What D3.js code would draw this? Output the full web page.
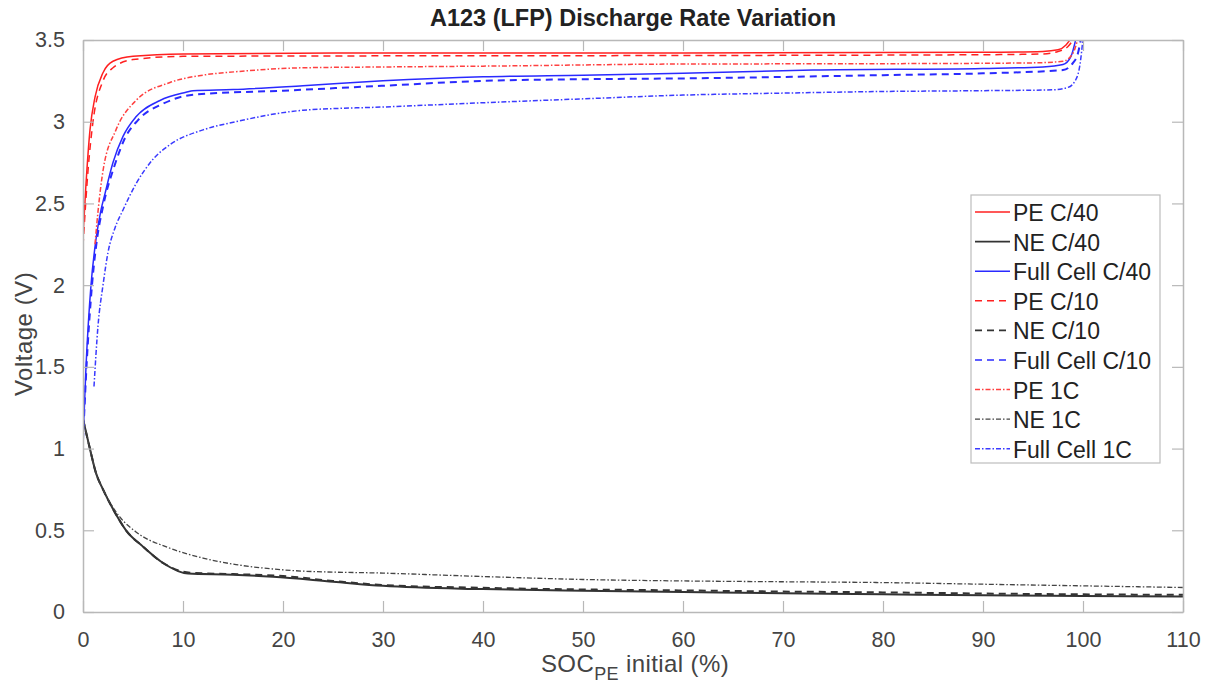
<!DOCTYPE html>
<html>
<head>
<meta charset="utf-8">
<script src="https://cdn.jsdelivr.net/npm/d3@7"></script>
<style>
  body { margin: 0; background: #fff; }
  text { font-family: "Liberation Sans", Arial, sans-serif; }
</style>
</head>
<body>
<div id="chart"></div>
<script>
// series: [SOC %, voltage V]
const peC40 = [[0,2.3],[0.3,2.62],[0.7,2.95],[1.2,3.15],[2,3.3],[3,3.37],[5,3.4],[10,3.415],[30,3.42],[60,3.42],[90,3.425],[96,3.43],[97.5,3.44],[98.3,3.47],[98.8,3.51]];
const neC40 = [[0,1.18],[0.65,1.01],[1.3,0.85],[2,0.75],[3,0.63],[4.3,0.5],[6,0.4],[8,0.3],[10.5,0.235],[15,0.228],[19,0.215],[25,0.185],[30,0.16],[40,0.14],[50,0.13],[60,0.122],[70,0.115],[80,0.108],[90,0.102],[100,0.098],[110,0.095]];
const fcC40 = [[0,1.05],[0.3,1.5],[0.8,2.0],[1.3,2.28],[1.8,2.46],[2.2,2.56],[3,2.75],[4,2.91],[5.3,3.03],[7.7,3.13],[10.3,3.18],[11,3.19],[15,3.197],[22,3.22],[30,3.25],[40,3.275],[50,3.285],[60,3.296],[73,3.316],[90,3.326],[96,3.335],[98,3.35],[98.8,3.4],[99.3,3.51]];
const peC10 = [[0,2.24],[0.5,2.7],[1,3.0],[2,3.25],[3,3.33],[5,3.38],[10,3.4],[30,3.403],[60,3.405],[90,3.41],[96,3.415],[97.5,3.43],[98.5,3.46],[99.1,3.51]];
const neC10 = [[0,1.18],[0.65,1.01],[1.3,0.85],[2,0.75],[3,0.63],[4.3,0.5],[6,0.4],[8,0.3],[10.7,0.24],[15,0.232],[20,0.22],[25,0.19],[30,0.165],[40,0.148],[50,0.138],[60,0.132],[70,0.125],[80,0.12],[90,0.113],[100,0.108],[110,0.105]];
const fcC10 = [[0,1.05],[0.35,1.5],[0.9,2.0],[1.4,2.28],[2,2.48],[3.2,2.74],[4.2,2.9],[5.5,3.01],[8,3.11],[11,3.165],[20,3.19],[30,3.22],[40,3.25],[50,3.26],[60,3.265],[80,3.285],[90,3.296],[98,3.316],[99,3.36],[99.5,3.42],[99.8,3.51]];
const pe1C = [[1.2,2.25],[1.5,2.45],[2,2.7],[3.3,2.95],[5.3,3.13],[8.7,3.24],[12,3.285],[15.3,3.306],[22,3.33],[30,3.335],[40,3.34],[60,3.353],[80,3.355],[95,3.36],[98,3.37],[99,3.42],[99.5,3.51]];
const ne1C = [[0,1.18],[0.65,1.01],[1.3,0.85],[2,0.75],[2.8,0.66],[3.7,0.58],[5.3,0.49],[8.7,0.39],[12,0.33],[15.3,0.29],[18.7,0.265],[22,0.25],[30,0.238],[40,0.217],[50,0.199],[60,0.19],[70,0.185],[80,0.18],[90,0.17],[100,0.16],[110,0.15]];
const fc1C = [[1.1,1.38],[1.5,1.75],[2,2.0],[2.5,2.2],[3.2,2.35],[4,2.46],[5.3,2.62],[7,2.77],[8.7,2.86],[12,2.95],[15.3,3.0],[22,3.07],[30,3.09],[40,3.116],[50,3.14],[60,3.163],[70,3.175],[80,3.185],[90,3.19],[97,3.195],[98.5,3.21],[99.3,3.26],[99.7,3.35],[100,3.51]];

const legendLabels = ["PE C/40","NE C/40","Full Cell C/40","PE C/10","NE C/10","Full Cell C/10","PE 1C","NE 1C","Full Cell 1C"];
const xTicks = [0,10,20,30,40,50,60,70,80,90,100,110];
const yTicks = [0,0.5,1,1.5,2,2.5,3,3.5];

const series = [
  {data: peC40, color: "#ff2020", dash: null, w: 1.5},
  {data: neC40, color: "#333", dash: null, w: 2},
  {data: fcC40, color: "#2a2aff", dash: null, w: 1.5},
  {data: peC10, color: "#ff2020", dash: "7,5", w: 1.5},
  {data: neC10, color: "#333", dash: "7,5", w: 2},
  {data: fcC10, color: "#2a2aff", dash: "7,5", w: 2},
  {data: pe1C, color: "#ff4040", dash: "5,2,1.5,2", w: 1.5},
  {data: ne1C, color: "#444", dash: "5,2,1.5,2", w: 1.3},
  {data: fc1C, color: "#3a3aff", dash: "5,2,1.5,2", w: 1.5}
];

const width = 1208, height = 692;
const margin = {left: 83, right: 25, top: 40, bottom: 80};
const iw = width - margin.left - margin.right;
const ih = height - margin.top - margin.bottom;

const svg = d3.select("#chart").append("svg")
  .attr("width", width).attr("height", height);

const x = d3.scaleLinear().domain([0, 110]).range([margin.left, margin.left + iw]);
const y = d3.scaleLinear().domain([0, 3.5]).range([margin.top + ih, margin.top]);

svg.append("clipPath").attr("id", "clip")
  .append("rect").attr("x", margin.left).attr("y", margin.top).attr("width", iw).attr("height", ih);

const line = d3.line().x(d => x(d[0])).y(d => y(d[1])).curve(d3.curveMonotoneX);

svg.append("g").attr("clip-path", "url(#clip)")
  .selectAll("path").data(series).enter().append("path")
  .attr("d", d => line(d.data))
  .attr("fill", "none")
  .attr("stroke", d => d.color)
  .attr("stroke-width", d => d.w)
  .attr("stroke-dasharray", d => d.dash);

// axes box with inward ticks, matlab style
const axColor = "#b8b8b8";
const tickLen = 11;
const axBottom = d3.axisBottom(x).tickValues(xTicks).tickSizeInner(-tickLen).tickSizeOuter(0).tickPadding(tickLen + 9);
const axLeft = d3.axisLeft(y).tickValues(yTicks).tickFormat(d3.format("~g"))
  .tickSizeInner(-tickLen).tickSizeOuter(0).tickPadding(tickLen + 7);
const axTop = d3.axisTop(x).tickValues(xTicks).tickSizeInner(-tickLen).tickSizeOuter(0).tickFormat("");
const axRight = d3.axisRight(y).tickValues(yTicks).tickSizeInner(-tickLen).tickSizeOuter(0).tickFormat("");

function style(g) {
  g.select(".domain").attr("stroke", axColor).attr("stroke-width", 1.5);
  g.selectAll(".tick line").attr("stroke", axColor).attr("stroke-width", 1.2);
  g.selectAll(".tick text").attr("fill", "#444").style("font-size", "21.5px")
    .style("font-family", "'Liberation Sans', Arial, sans-serif");
}

svg.append("g").attr("transform", `translate(0,${margin.top + ih})`).call(axBottom).call(style);
svg.append("g").attr("transform", `translate(${margin.left},0)`).call(axLeft).call(style);
svg.append("g").attr("transform", `translate(0,${margin.top})`).call(axTop).call(style);
svg.append("g").attr("transform", `translate(${margin.left + iw},0)`).call(axRight).call(style);

// title and labels
svg.append("text").attr("x", margin.left + iw / 2).attr("y", 26)
  .attr("text-anchor", "middle").style("font-size", "23.5px").style("font-weight", "bold")
  .attr("fill", "#222").text("A123 (LFP) Discharge Rate Variation");

svg.append("text").attr("transform", `translate(24,${margin.top + ih / 2 + 8}) rotate(-90)`)
  .attr("text-anchor", "middle").attr("dy", "0.35em")
  .style("font-size", "24px").style("letter-spacing", "0.5px").attr("fill", "#444")
  .text("Voltage (V)");

const xl = svg.append("text").attr("x", margin.left + iw / 2 + 2).attr("y", 672)
  .attr("text-anchor", "middle").style("font-size", "24px").style("letter-spacing", "0.4px").attr("fill", "#444");
xl.append("tspan").text("SOC");
xl.append("tspan").attr("dy", 8).style("font-size", "18px").text("PE");
xl.append("tspan").attr("dy", -8).text(" initial (%)");

// legend
const lg = svg.append("g").attr("transform", "translate(971,195)");
lg.append("rect").attr("width", 189).attr("height", 268)
  .attr("fill", "#fff").attr("stroke", "#bdbdbd").attr("stroke-width", 1.2);
const items = lg.selectAll("g.item").data(series).enter().append("g")
  .attr("transform", (d, i) => `translate(0,${17 + i * 29.6})`);
items.append("line").attr("x1", 4).attr("x2", 39).attr("y1", 0).attr("y2", 0)
  .attr("stroke", d => d.color).attr("stroke-width", d => Math.min(d.w, 1.6))
  .attr("stroke-dasharray", d => d.dash);
items.append("text").attr("x", 42).attr("y", 1).attr("dy", "0.35em")
  .style("font-size", "23px").attr("fill", "#222")
  .text((d, i) => legendLabels[i]);
</script>
</body>
</html>
